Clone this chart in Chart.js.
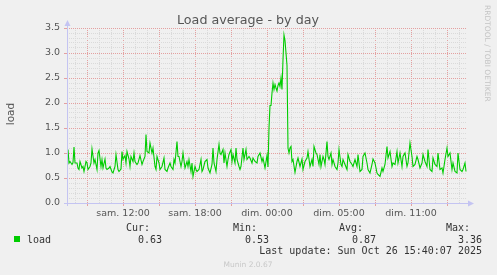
<!DOCTYPE html>
<html>
<head>
<meta charset="utf-8">
<script src="https://cdn.jsdelivr.net/npm/chart.js@4/dist/chart.umd.min.js"></script>
<style>
  html, body { margin: 0; padding: 0; background: #f0f0f0; }
  #chartCanvas { display: block; }
</style>
</head>
<body>
<canvas id="chartCanvas" width="497" height="275"></canvas>
<script>
// minutes elapsed since sam. 00:00 (one pixel = 5 min)
const loadMinutes = [
  440, 445, 450, 455, 465, 470, 475, 480, 490, 495, 500, 505, 515, 520, 525, 535, 540, 545, 555, 560,
  565, 575, 580, 590, 595, 600, 610, 615, 620, 630, 635, 640, 650, 655, 665, 670, 680, 685, 695, 700,
  710, 715, 720, 730, 735, 740, 750, 755, 760, 770, 775, 780, 790, 795, 805, 815, 820, 830, 835, 840,
  850, 855, 865, 870, 880, 885, 890, 900, 905, 915, 925, 930, 940, 945, 955, 960, 970, 975, 980, 990,
  995, 1000, 1010, 1015, 1020, 1030, 1040, 1045, 1050, 1060, 1065, 1070, 1080, 1085, 1090, 1100, 1110, 1115, 1120, 1130,
  1140, 1145, 1155, 1165, 1170, 1175, 1185, 1190, 1200, 1205, 1210, 1220, 1225, 1230, 1240, 1245, 1250, 1260, 1265, 1270,
  1280, 1285, 1290, 1300, 1305, 1310, 1320, 1325, 1335, 1340, 1350, 1355, 1365, 1370, 1380, 1390, 1395, 1405, 1415, 1420,
  1430, 1440, 1445, 1450, 1455, 1460, 1465, 1470, 1475, 1480, 1485, 1490, 1495, 1500, 1505, 1510, 1515, 1520, 1525, 1530,
  1535, 1540, 1545, 1550, 1555, 1560, 1565, 1570, 1580, 1590, 1595, 1605, 1615, 1620, 1630, 1640, 1645, 1655, 1665, 1670,
  1675, 1685, 1690, 1700, 1705, 1710, 1720, 1725, 1730, 1740, 1745, 1750, 1760, 1765, 1770, 1780, 1790, 1795, 1800, 1810,
  1815, 1820, 1830, 1840, 1845, 1855, 1865, 1870, 1880, 1890, 1895, 1905, 1915, 1920, 1930, 1940, 1945, 1955, 1965, 1970,
  1980, 1990, 1995, 2005, 2015, 2020, 2030, 2040, 2045, 2055, 2065, 2070, 2080, 2090, 2095, 2105, 2115, 2120, 2130, 2140,
  2145, 2155, 2165, 2170, 2180, 2190, 2195, 2205, 2215, 2220, 2230, 2240, 2245, 2255, 2265, 2270, 2280, 2290, 2295, 2305,
  2315, 2320, 2330, 2340, 2345, 2355, 2365, 2370, 2380, 2390, 2395, 2405, 2415, 2420, 2430, 2435
];
const loadValues = [
  0.80, 1.07, 0.80, 0.83, 0.77, 0.81, 1.12, 0.80, 0.80, 0.70, 0.67, 0.83, 0.70, 0.73, 0.63, 0.83, 0.80, 0.67, 0.73, 0.80,
  1.08, 0.80, 0.87, 0.67, 1.00, 1.05, 0.73, 0.87, 0.70, 0.88, 0.70, 0.67, 0.70, 0.73, 0.62, 0.60, 0.73, 0.97, 0.67, 0.63,
  0.68, 1.03, 0.87, 0.95, 0.80, 1.03, 0.88, 0.73, 0.93, 0.83, 1.00, 0.83, 0.77, 0.80, 0.95, 0.77, 0.83, 0.93, 1.37, 1.03,
  1.00, 1.20, 1.00, 1.10, 0.73, 0.67, 0.93, 0.80, 0.67, 0.73, 0.90, 0.67, 0.63, 0.70, 0.80, 0.73, 0.67, 0.87, 0.80, 1.23,
  0.93, 0.93, 0.73, 0.83, 1.00, 0.70, 0.83, 0.73, 0.87, 0.63, 0.80, 0.53, 0.73, 0.67, 0.63, 0.67, 0.87, 0.63, 0.67, 0.83,
  0.87, 0.70, 0.60, 0.77, 1.10, 0.80, 0.63, 0.87, 1.17, 1.00, 0.97, 1.07, 0.80, 1.00, 0.73, 0.87, 0.97, 1.07, 0.83, 0.97,
  0.80, 1.10, 0.87, 0.73, 0.67, 0.73, 1.10, 0.87, 1.07, 0.87, 0.93, 0.90, 0.80, 0.90, 0.83, 0.80, 0.93, 1.00, 0.83, 0.90,
  0.70, 0.95, 0.72, 1.50, 1.95, 1.95, 2.20, 2.40, 2.27, 2.37, 2.30, 2.24, 2.35, 2.40, 2.33, 2.50, 2.27, 2.87, 3.36, 3.25,
  3.00, 2.75, 1.10, 1.00, 1.10, 1.13, 0.83, 0.87, 0.61, 0.83, 0.90, 0.73, 0.88, 0.67, 0.83, 0.90, 1.03, 0.73, 0.87, 0.73,
  1.13, 1.00, 0.97, 0.77, 0.97, 0.73, 0.93, 0.87, 0.77, 1.23, 0.93, 0.87, 1.00, 0.77, 0.87, 0.73, 0.67, 0.80, 1.07, 0.77,
  0.73, 0.87, 0.77, 0.67, 0.97, 0.83, 0.77, 0.73, 0.87, 0.73, 0.97, 0.63, 0.67, 0.93, 1.00, 0.80, 0.67, 0.60, 0.77, 0.88,
  0.80, 0.60, 0.57, 0.53, 0.70, 0.63, 0.77, 1.13, 0.90, 1.03, 0.73, 0.80, 0.77, 1.03, 0.80, 1.00, 0.73, 0.93, 1.00, 0.73,
  0.80, 1.20, 0.93, 0.73, 0.77, 0.93, 0.87, 0.70, 0.80, 0.97, 0.83, 0.73, 1.07, 0.67, 0.63, 0.90, 0.77, 0.73, 1.00, 0.67,
  0.70, 0.60, 0.87, 1.10, 0.93, 1.00, 0.67, 0.80, 0.63, 0.60, 1.00, 0.67, 0.63, 0.67, 0.80, 0.63
];

// x axis: range and labelled ticks (minutes)
const xRange = [440, 2440];
const xTickMinutes = [720, 1080, 1440, 1800, 2160];
const xTickLabels = ['sam. 12:00', 'sam. 18:00', 'dim. 00:00', 'dim. 05:00', 'dim. 11:00'];
const yRange = [0, 3.5];

// legend
const seriesName = 'load';
const legendHeads = ['Cur:', 'Min:', 'Avg:', 'Max:'];
const legendValues = ['0.63', '0.53', '0.87', '3.36'];
const lastUpdate = 'Last update: Sun Oct 26 15:40:07 2025';

const MAJOR = '#e4a0a0';
const MINOR = '#dadada';
const AXIS = '#c4c4f2';
const TEXT = '#555555';

const decorations = {
  id: 'decorations',
  afterDatasetsDraw(chart) {
    const { ctx, chartArea: a } = chart;
    ctx.save();
    // axes with arrows
    ctx.strokeStyle = AXIS;
    ctx.fillStyle = AXIS;
    ctx.lineWidth = 1;
    ctx.beginPath();
    ctx.moveTo(a.left + 0.5, a.bottom + 3);
    ctx.lineTo(a.left + 0.5, a.top - 4);
    ctx.moveTo(a.left - 3, a.bottom + 0.5);
    ctx.lineTo(a.right + 3, a.bottom + 0.5);
    ctx.stroke();
    ctx.beginPath();
    ctx.moveTo(a.left + 0.5, a.top - 8);
    ctx.lineTo(a.left - 2.5, a.top - 2);
    ctx.lineTo(a.left + 3.5, a.top - 2);
    ctx.fill();
    ctx.beginPath();
    ctx.moveTo(a.right + 7, a.bottom + 0.5);
    ctx.lineTo(a.right + 1, a.bottom - 2.5);
    ctx.lineTo(a.right + 1, a.bottom + 3.5);
    ctx.fill();
    ctx.restore();
  },
  afterDraw(chart) {
    const { ctx } = chart;
    ctx.save();
    // title
    ctx.fillStyle = TEXT;
    ctx.font = '12.7px "DejaVu Sans"';
    ctx.textAlign = 'center';
    ctx.textBaseline = 'alphabetic';
    ctx.fillText('Load average - by day', 248, 24);

    // y title
    ctx.save();
    ctx.translate(14, 114);
    ctx.rotate(-Math.PI / 2);
    ctx.font = '10.5px "DejaVu Sans"';
    ctx.fillText(seriesName, 0, 0);
    ctx.restore();

    // watermark
    ctx.save();
    ctx.translate(485, 5);
    ctx.rotate(Math.PI / 2);
    ctx.fillStyle = '#c4c4c4';
    ctx.font = '7.5px "DejaVu Sans"';
    ctx.textAlign = 'left';
    ctx.fillText('RRDTOOL / TOBI OETIKER', 0, 0);
    ctx.restore();

    // legend
    ctx.fillStyle = '#00cc00';
    ctx.fillRect(14, 236, 6, 6);
    ctx.fillStyle = '#333333';
    ctx.font = '10px "DejaVu Sans Mono"';
    ctx.textAlign = 'left';
    ctx.fillText(seriesName, 27, 243);
    const headEnds = [150, 257, 363, 470];
    const valueEnds = [162, 269, 376, 482];
    ctx.textAlign = 'right';
    legendHeads.forEach((h, i) => ctx.fillText(h, headEnds[i], 231));
    legendValues.forEach((v, i) => ctx.fillText(v, valueEnds[i], 243));
    ctx.fillText(lastUpdate, 482, 254);

    // footer
    ctx.fillStyle = '#c8c8c8';
    ctx.font = '7.5px "DejaVu Sans"';
    ctx.textAlign = 'center';
    ctx.fillText('Munin 2.0.67', 248, 267);
    ctx.restore();
  }
};

const isMajorY = v => Math.round(v * 10) % 5 === 0;
const isMajorX = v => Math.round(v) % 180 === 0;

new Chart(document.getElementById('chartCanvas'), {
  type: 'line',
  data: {
    datasets: [{
      label: seriesName,
      data: loadMinutes.map((m, i) => ({ x: m, y: loadValues[i] })),
      borderColor: '#00cc00',
      borderWidth: 1.1,
      pointRadius: 0,
      tension: 0,
      fill: false
    }]
  },
  options: {
    responsive: false,
    animation: false,
    events: [],
    layout: { padding: { top: 28, right: 30, bottom: 52, left: 0 } },
    plugins: { legend: { display: false }, title: { display: false }, tooltip: { enabled: false } },
    scales: {
      x: {
        type: 'linear',
        min: xRange[0],
        max: xRange[1],
        afterFit: s => { s.height = 20; },
        border: { display: false, dash: [1, 1] },
        grid: {
          color: c => (c.tick && isMajorX(c.tick.value)) ? MAJOR : MINOR,
          tickColor: c => (c.tick && isMajorX(c.tick.value)) ? MAJOR : 'rgba(0,0,0,0)',
          tickLength: 3,
          lineWidth: 1
        },
        ticks: {
          stepSize: 60,
          includeBounds: false,
          autoSkip: false,
          maxRotation: 0,
          padding: 2,
          color: TEXT,
          font: { family: '"DejaVu Sans"', size: 9.5 },
          callback: v => {
            const k = xTickMinutes.indexOf(Math.round(v));
            return k >= 0 ? xTickLabels[k] : '';
          }
        }
      },
      y: {
        min: yRange[0],
        max: yRange[1],
        afterFit: s => { s.width = 67; },
        border: { display: false, dash: [1, 1] },
        grid: {
          color: c => (c.tick && isMajorY(c.tick.value)) ? MAJOR : MINOR,
          tickColor: c => (c.tick && isMajorY(c.tick.value)) ? MAJOR : 'rgba(0,0,0,0)',
          tickLength: 3,
          lineWidth: 1
        },
        ticks: {
          stepSize: 0.1,
          maxTicksLimit: 60,
          autoSkip: false,
          padding: 4,
          color: TEXT,
          font: { family: '"DejaVu Sans"', size: 9.5 },
          callback: v => isMajorY(v) ? v.toFixed(1) : ''
        }
      }
    }
  },
  plugins: [decorations]
});
</script>
</body>
</html>
